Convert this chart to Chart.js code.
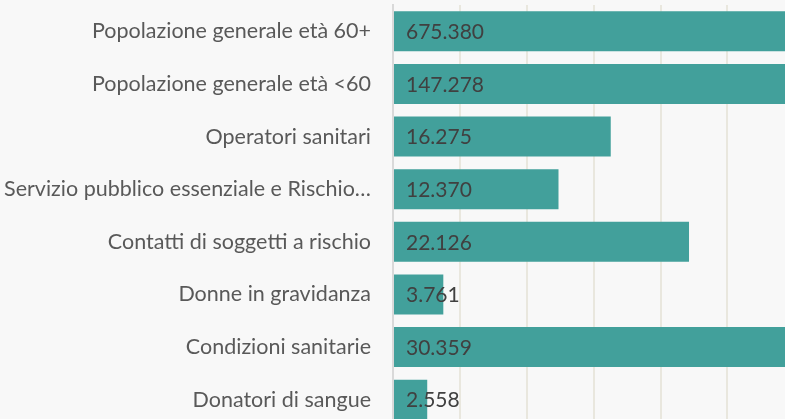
<!DOCTYPE html>
<html>
<head>
<meta charset="utf-8">
<script src="https://cdn.jsdelivr.net/npm/chart.js@4/dist/chart.umd.min.js"></script>
<style>
  html, body { margin: 0; padding: 0; background: #f8f8f8; overflow: hidden; }
  canvas { display: block; }
</style>
</head>
<body>
<canvas id="chart" width="785" height="426"></canvas>
<script>
// categorie e valori (dosi somministrate)
const categories = [
  "Popolazione generale età 60+",
  "Popolazione generale età <60",
  "Operatori sanitari",
  "Servizio pubblico essenziale e Rischio…",
  "Contatti di soggetti a rischio",
  "Donne in gravidanza",
  "Condizioni sanitarie",
  "Donatori di sangue",
];
const values = [675380, 147278, 16275, 12370, 22126, 3761, 30359, 2558];
const xTicks = [0, 5000, 10000, 15000, 20000, 25000];

const barColor = "#42a09b";

// etichette dentro la barra, all'inizio
const valueLabels = {
  id: "valueLabels",
  afterDatasetsDraw(chart) {
    const ctx = chart.ctx;
    const meta = chart.getDatasetMeta(0);
    ctx.save();
    ctx.font = "21px Lato";
    ctx.fillStyle = "#404040";
    ctx.textBaseline = "middle";
    ctx.textAlign = "left";
    meta.data.forEach((bar, i) => {
      const txt = values[i].toLocaleString("it-IT");
      ctx.fillText(txt, bar.base + 12, bar.y + 1);
    });
    ctx.restore();
  },
};

new Chart(document.getElementById("chart").getContext("2d"), {
  type: "bar",
  data: {
    labels: categories,
    datasets: [
      {
        data: values,
        backgroundColor: barColor,
        borderWidth: 0,
        categoryPercentage: 1,
        barPercentage: 0.76,
      },
    ],
  },
  options: {
    indexAxis: "y",
    responsive: false,
    animation: false,
    layout: { padding: { top: 5, right: 0, bottom: 0, left: 0 } },
    plugins: {
      legend: { display: false },
      tooltip: { enabled: false },
    },
    scales: {
      x: {
        min: 0,
        max: 29300,
        afterBuildTicks: (scale) => {
          scale.ticks = xTicks.map((v) => ({ value: v }));
        },
        afterFit: (scale) => {
          scale.height = 0;
        },
        ticks: { display: false },
        grid: { color: "#e9e7de", lineWidth: 2, drawTicks: false },
        border: { display: false },
      },
      y: {
        afterFit: (scale) => {
          scale.width = 393;
          scale.paddingTop = 0;
          scale.paddingBottom = 0;
        },
        ticks: {
          color: "#595959",
          font: { family: "Lato", size: 21.5 },
          padding: 22,
        },
        grid: { display: false, drawTicks: false },
        border: { display: true, color: "#d9d9d9", width: 2 },
      },
    },
  },
  plugins: [valueLabels],
});
</script>
</body>
</html>
